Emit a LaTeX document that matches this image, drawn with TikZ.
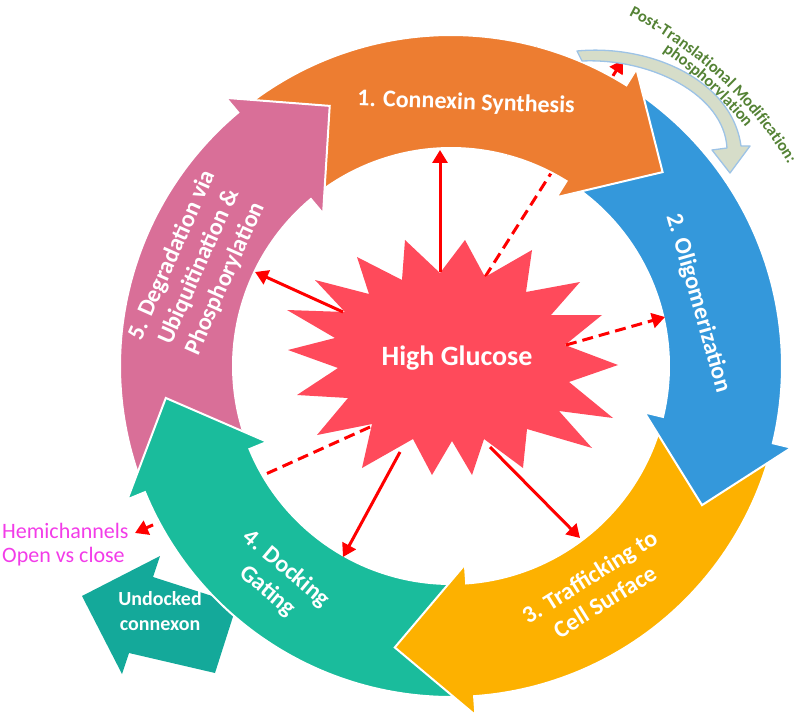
\documentclass[tikz,border=0pt]{standalone}
\usepackage{fontspec}
\setmainfont{Carlito}
\usetikzlibrary{arrows.meta,decorations.text}
\definecolor{orangeC}{HTML}{ED7D31}
\definecolor{blueC}{HTML}{3498DB}
\definecolor{yellowC}{HTML}{FDB100}
\definecolor{tealC}{HTML}{1ABC9C}
\definecolor{pinkC}{HTML}{D96F98}
\definecolor{undockC}{HTML}{14A99A}
\definecolor{starC}{HTML}{FF4A5B}
\definecolor{greenC}{HTML}{548235}
\definecolor{magentaC}{HTML}{F23CE8}
\definecolor{ptmFill}{HTML}{D6DDC9}
\definecolor{ptmDraw}{HTML}{9DC3E6}
\definecolor{redC}{HTML}{FF0000}
\newcommand{\ringarrow}[4]{%
  \filldraw[fill=#1, draw=white, line width=2pt, line join=miter]
    plot[domain=#2:#3, samples=60] (\x:331) -- (#3:350) -- (#4:287) -- (#3:199)
    -- plot[domain=#3:#2, samples=60] (\x:218) -- cycle;}
\begin{document}
\begin{tikzpicture}[x=1pt,y=-1pt,
  redarr/.style={draw=redC, line width=3pt, -{Triangle[length=13pt,width=15pt]}},
  reddash/.style={redarr, dash pattern=on 11pt off 6pt},
  lbl/.style={text=white, font=\bfseries\fontsize{24}{29}\selectfont, align=center, inner sep=0pt}]
\useasboundingbox (0,0) rectangle (800,719);
\coordinate (C) at (451,366);
% start points on the star, end points on the ring
\coordinate (s1) at (440,272); \coordinate (e1) at (440,150);
\coordinate (s2) at (485,277); \coordinate (e2) at (623,60);
\coordinate (s3) at (566,345); \coordinate (e3) at (665,317);
\coordinate (s4) at (490,447); \coordinate (e4) at (580,538);
\coordinate (s5) at (400,452); \coordinate (e5) at (343,557);
\coordinate (s6) at (370,427); \coordinate (e6) at (135,533);
\coordinate (s7) at (343,312); \coordinate (e7) at (255,272);
% dashed arrows passing beneath the ring
\draw[reddash] (s2) -- (e2);
\draw[reddash] (s6) -- (e6);
% undocked connexon arrow
\fill[undockC] (82,596) -- (160,556) -- (153,577) -- (237,604) -- (215,673) -- (129,653) -- (122,674) -- cycle;
\node (undock) [text=white, font=\bfseries\fontsize{20}{25}\selectfont, align=center, inner sep=0pt] at (160,611) {Undocked\\connexon};
% ring of arrows
\begin{scope}[shift={(C)}]
  \ringarrow{orangeC}{-127.5}{-58}{-42.5}
  \ringarrow{pinkC}{160}{230}{245}
  \ringarrow{tealC}{88.5}{157.6}{173.6}
  \ringarrow{yellowC}{16}{86}{101.3}
  \ringarrow{blueC}{-55.5}{13.5}{29}
  \begin{scope}
    \clip (0,0) -- plot[domain=-75:-25, samples=20] (\x:420) -- cycle;
    \ringarrow{orangeC}{-127.5}{-58}{-42.5}
  \end{scope}
  % curved green labels
  \path[decorate, decoration={text along path, text align=center, text color=greenC,
     text={|\bfseries\fontsize{16.5}{20}\selectfont|Post-Translational Modification:}}]
     plot[domain=-75:-19, samples=120] (\x:393);
  \path[decorate, decoration={text along path, text align=center, text color=greenC,
     text={|\bfseries\fontsize{16.5}{20}\selectfont|phosphorylation}}]
     plot[domain=-72:-23, samples=120] (\x:379);
\end{scope}
% post-translational modification arrow
\filldraw[fill=ptmFill, draw=ptmDraw, line width=1.3pt, line join=round]
  (577,51) .. controls (650,44) and (732,80) .. (741,146) -- (750,146) -- (730,173)
  -- (712,150) -- (727,148) .. controls (724,95) and (652,58) .. (582,61) -- cycle;
% ring labels
\node (lab1) [lbl, rotate=-2] at (466,103) {1. Connexin Synthesis};
\node (lab2) [lbl, rotate=-74] at (698,303) {2. Oligomerization};
\node (lab3) [lbl, rotate=32] at (597,589) {3. Trafficking to\\Cell Surface};
\node (lab4) [lbl, rotate=-40] at (277,580) {4. Docking\\Gating};
\node (lab5) [lbl, rotate=66] at (199,267) {5. Degradation via\\Ubiquitination \&\\Phosphorylation};
% high glucose star
\fill[starC] plot coordinates {(405,240) (440,273) (465,240) (485,277) (532,250) (526,292)
  (580,282) (551,315) (602,315) (565,345) (618,365) (569,382) (613,418) (559,411)
  (592,448) (527,429) (523,468) (484,439) (472,475) (452,441) (432,475) (413,439)
  (362,468) (372,424) (317,435) (348,398) (297,395) (338,368) (288,350) (335,338)
  (287,310) (345,312) (315,280) (369,294) (357,257) (402,280)} -- cycle;
\node (hg) [text=white, font=\bfseries\fontsize{28}{32}\selectfont, inner sep=0pt] at (457,358) {High Glucose};
% solid and dashed arrows from the star
\draw[redarr] (s1) -- (e1);
\draw[reddash] (s3) -- (e3);
\draw[redarr] (s4) -- (e4);
\draw[redarr] (s5) -- (e5);
\draw[redarr] (s7) -- (e7);
% hemichannels label
\node (hemi1) [anchor=base west, inner sep=0pt, text=magentaC, font=\fontsize{22}{26}\selectfont] at (2,538) {Hemichannels};
\node (hemi2) [anchor=base west, inner sep=0pt, text=magentaC, font=\fontsize{22}{26}\selectfont] at (2,562) {Open vs close};
\end{tikzpicture}
\end{document}
